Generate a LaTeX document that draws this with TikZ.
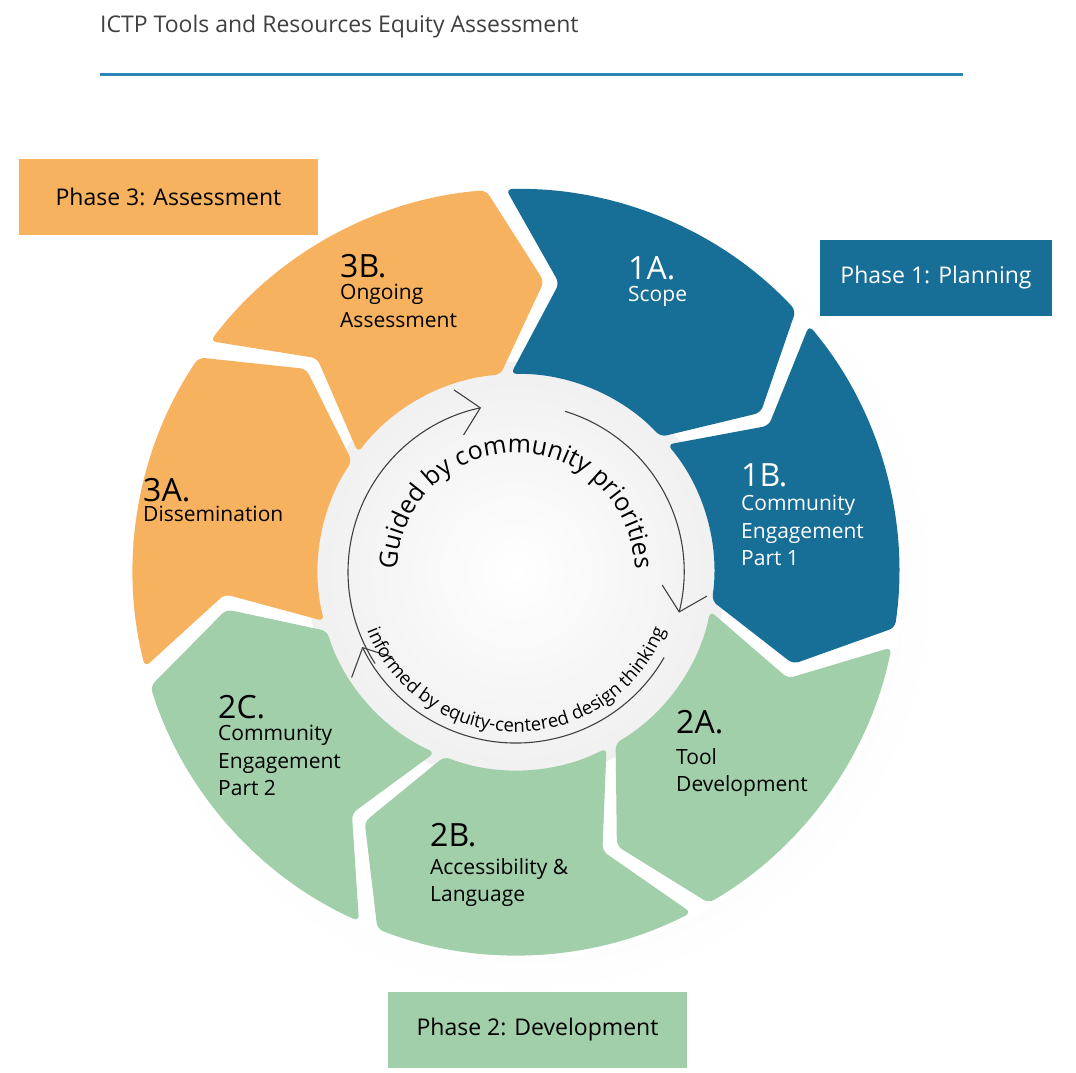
\documentclass[tikz,border=0pt]{standalone}
\usepackage{fontspec}
\setmainfont{Open Sans}
\usetikzlibrary{positioning,arrows.meta,decorations.text}
\definecolor{phaseblue}{HTML}{176E96}
\definecolor{phaseorange}{HTML}{F7B25F}
\definecolor{phasegreen}{HTML}{A0CFA9}
\definecolor{rulecol}{HTML}{2A86B8}
\tikzset{
  phasebox/.style={minimum width=#1, minimum height=76pt, inner sep=0pt, font=\fontsize{23}{27}\selectfont},
  segnum/.style={anchor=west, inner sep=0pt, font=\fontsize{32}{36}\selectfont},
  segtext/.style={anchor=north west, inner sep=0pt, align=left, font=\fontsize{21}{27.5}\selectfont},
  cyclearrow/.style={line width=1.1pt, draw=black!75, -{Straight Barb[length=22pt,width=46pt]}}
}
% one chevron of the ring: #1 = start angle, #2 = colour
\newcommand{\ringseg}[2]{%
  \pgfmathsetmacro{\sa}{#1-1.5}\pgfmathsetmacro{\ea}{#1-49.93}%
  \pgfmathsetmacro{\na}{#1-11.5}\pgfmathsetmacro{\ta}{#1-59.93}%
  \fill[#2, rounded corners=6pt] (\sa:383) arc[start angle=\sa, end angle=\ea, radius=383]
    -- (\ta:292) -- (\ea:198) arc[start angle=\ea, end angle=\sa, radius=198] -- (\na:292) -- cycle;}
\begin{document}
\begin{tikzpicture}[x=1pt, y=-1pt]
    \useasboundingbox (0,0) rectangle (1076,1072);

    \node[anchor=west, inner sep=0pt, text=black!75, font=\fontsize{23}{27}\selectfont] (title) at (100,27) {ICTP Tools and Resources Equity Assessment};
    \coordinate (ruleL) at (100,74);
    \coordinate (ruleR) at (963,74);
    \draw[rulecol, line width=3pt] (ruleL) -- (ruleR);

    \begin{scope}[shift={(516,572)}, y=1pt]
        \shade[inner color=black!7, outer color=white] (14,-16) circle (410);
        \fill[white] (0,0) circle (388);
        \shade[inner color=white, outer color=black!6] (0,0) circle (210);
        \ringseg{93}{phaseblue}
        \ringseg{41.57}{phaseblue}
        \ringseg{-9.86}{phasegreen}
        \ringseg{-61.29}{phasegreen}
        \ringseg{-112.71}{phasegreen}
        \ringseg{-164.14}{phaseorange}
        \ringseg{144.43}{phaseorange}

        \draw[cyclearrow] (213:168) arc[start angle=213, end angle=102, radius=168];
        \draw[cyclearrow] (73:168) arc[start angle=73, end angle=-14, radius=168];
        \draw[cyclearrow] (-30:171) arc[start angle=-30, end angle=-154, radius=171];

        \path[decorate, decoration={text along path, text align=center,
            text={|\fontsize{25}{29}\selectfont|Guided by community priorities}}]
            (177:119) arc[start angle=177, end angle=3, radius=119];
        \path[decorate, decoration={text along path, text align=center,
            text={|\fontsize{18.5}{22}\selectfont|informed by equity-centered design thinking}}]
            (192:160) arc[start angle=192, end angle=348, radius=160];
    \end{scope}

    % segment labels
    \node[segnum, text=white] (n1A) at (628,268) {1A.};
    \node[segtext, text=white] (t1A) at (628,286) {Scope};
    \node[segnum, text=white] (n1B) at (741,475) {1B.};
    \node[segtext, text=white] (t1B) at (741,495) {Community\\Engagement\\Part 1};
    \node[segnum] (n2A) at (676,722) {2A.};
    \node[segtext] (t2A) at (676,748) {Tool\\Development};
    \node[segnum] (n2B) at (430,835) {2B.};
    \node[segtext] (t2B) at (430,858) {Accessibility \&\\Language};
    \node[segnum] (n2C) at (218,707) {2C.};
    \node[segtext] (t2C) at (218,725) {Community\\Engagement\\Part 2};
    \node[segnum] (n3A) at (143,490) {3A.};
    \node[segtext] (t3A) at (143,506) {Dissemination};
    \node[segnum] (n3B) at (340,266) {3B.};
    \node[segtext] (t3B) at (340,284) {Ongoing\\Assessment};

    % phase boxes
    \node[phasebox=299pt, fill=phaseorange] (ph3) at (168.5,196.5) {Phase 3: Assessment};
    \node[phasebox=232pt, fill=phaseblue, text=white] (ph1) at (936,278) {Phase 1: Planning};
    \node[phasebox=299pt, fill=phasegreen] (ph2) at (537.5,1029.5) {Phase 2: Development};
\end{tikzpicture}
\end{document}
